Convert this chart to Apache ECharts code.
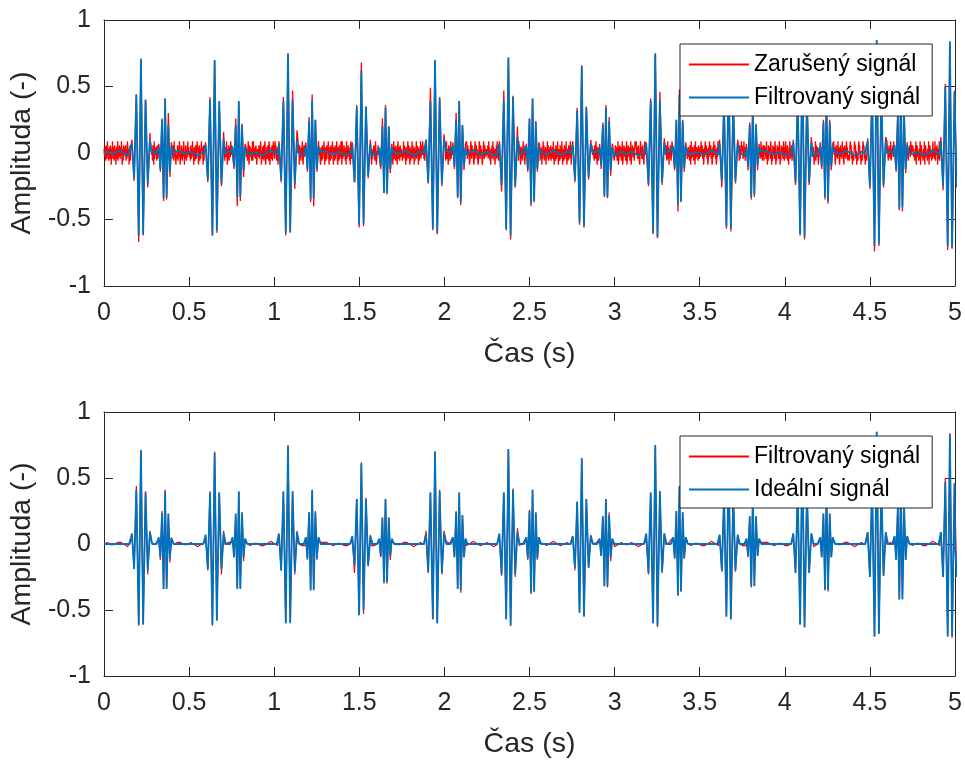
<!DOCTYPE html>
<html>
<head>
<meta charset="utf-8">
<script src="https://cdn.jsdelivr.net/npm/echarts@6/dist/echarts.min.js"></script>
<style>
html,body{margin:0;padding:0;background:#fff;}
#chart{width:965px;height:760px;}
</style>
</head>
<body>
<div id="chart"></div>
<script>
// ---------- DATA ----------
const xTicks = [0, 0.5, 1, 1.5, 2, 2.5, 3, 3.5, 4, 4.5, 5];
const yTicks = [-1, -0.5, 0, 0.5, 1];

// time (s) of the main positive peak of each burst
const beatTimes = [0.217, 0.650, 1.081, 1.512, 1.945, 2.376, 2.807, 3.239, 3.670, 4.103, 4.540, 4.970];
// time offsets (s) of the extrema of the main wavelet and of the second, smaller wavelet
const mainOffsets = [-0.053, -0.040, -0.027, -0.013, 0, 0.013, 0.027, 0.040, 0.053];
const secOffsets = [0.105, 0.114, 0.124, 0.133, 0.142, 0.151, 0.161, 0.170, 0.179];

// ideal signal extrema (bottom, blue)
const idealMain = [
  [0.08,-0.19,0.41,-0.61,0.71,-0.61,0.39,-0.20,0.09],
  [0.07,-0.19,0.39,-0.61,0.69,-0.58,0.39,-0.19,0.08],
  [0.08,-0.20,0.40,-0.60,0.74,-0.60,0.40,-0.21,0.09],
  [0.06,-0.16,0.34,-0.54,0.61,-0.50,0.34,-0.16,0.06],
  [0.07,-0.21,0.39,-0.57,0.70,-0.60,0.40,-0.22,0.08],
  [0.08,-0.23,0.39,-0.57,0.72,-0.62,0.41,-0.23,0.09],
  [0.06,-0.18,0.32,-0.52,0.65,-0.55,0.34,-0.18,0.06],
  [0.08,-0.22,0.39,-0.60,0.75,-0.62,0.40,-0.21,0.08],
  [0.07,-0.20,0.37,-0.55,0.68,-0.57,0.37,-0.20,0.07],
  [0.08,-0.22,0.40,-0.61,0.74,-0.63,0.41,-0.22,0.08],
  [0.09,-0.25,0.45,-0.70,0.85,-0.68,0.45,-0.24,0.09],
  [0.09,-0.25,0.47,-0.70,0.83,-0.70,0.46,-0.25,0.09]
];
const idealSec = [
  [0.05,-0.10,0.23,-0.34,0.40,-0.34,0.23,-0.11,0.04],
  [0.05,-0.10,0.23,-0.34,0.40,-0.34,0.24,-0.10,0.04],
  [0.05,-0.11,0.24,-0.35,0.41,-0.35,0.24,-0.11,0.05],
  [0.04,-0.09,0.20,-0.29,0.34,-0.29,0.20,-0.09,0.04],
  [0.05,-0.10,0.24,-0.34,0.39,-0.35,0.22,-0.10,0.04],
  [0.05,-0.11,0.25,-0.37,0.41,-0.36,0.24,-0.11,0.05],
  [0.04,-0.09,0.21,-0.32,0.34,-0.32,0.22,-0.10,0.04],
  [0.05,-0.11,0.25,-0.39,0.44,-0.36,0.24,-0.11,0.05],
  [0.04,-0.09,0.21,-0.32,0.36,-0.32,0.21,-0.09,0.04],
  [0.05,-0.10,0.23,-0.35,0.40,-0.35,0.23,-0.10,0.05],
  [0.06,-0.12,0.28,-0.42,0.48,-0.42,0.28,-0.12,0.06],
  [0.06,-0.12,0.28,-0.42,0.48,-0.42,0.28,-0.12,0.06]
];

// filtered signal extrema (top blue, bottom red)
const filtMain = [
  [0.07,-0.19,0.44,-0.62,0.71,-0.61,0.40,-0.23,0.10],
  [0.06,-0.20,0.40,-0.62,0.70,-0.58,0.39,-0.23,0.10],
  [0.07,-0.20,0.39,-0.60,0.75,-0.59,0.40,-0.23,0.10],
  [0.05,-0.22,0.34,-0.54,0.62,-0.53,0.35,-0.17,0.07],
  [0.10,-0.22,0.39,-0.57,0.70,-0.60,0.41,-0.23,0.10],
  [0.07,-0.24,0.39,-0.57,0.72,-0.62,0.42,-0.25,0.12],
  [0.06,-0.20,0.32,-0.52,0.65,-0.55,0.34,-0.18,0.07],
  [0.07,-0.23,0.39,-0.60,0.75,-0.63,0.40,-0.22,0.08],
  [0.07,-0.21,0.37,-0.55,0.68,-0.57,0.37,-0.21,0.07],
  [0.08,-0.22,0.40,-0.61,0.74,-0.63,0.41,-0.22,0.08],
  [0.09,-0.25,0.46,-0.70,0.85,-0.68,0.45,-0.24,0.09],
  [0.09,-0.25,0.50,-0.70,0.84,-0.71,0.46,-0.25,0.09]
];
const filtSec = [
  [0.04,-0.12,0.25,-0.34,0.41,-0.33,0.21,-0.14,0.05],
  [0.05,-0.10,0.21,-0.33,0.39,-0.33,0.21,-0.13,0.04],
  [0.05,-0.12,0.24,-0.35,0.40,-0.34,0.25,-0.12,0.05],
  [0.04,-0.10,0.20,-0.30,0.34,-0.30,0.20,-0.12,0.04],
  [0.05,-0.10,0.25,-0.33,0.39,-0.37,0.21,-0.10,0.04],
  [0.05,-0.12,0.26,-0.38,0.41,-0.36,0.23,-0.12,0.05],
  [0.04,-0.09,0.21,-0.32,0.34,-0.33,0.24,-0.13,0.04],
  [0.05,-0.11,0.25,-0.39,0.44,-0.36,0.24,-0.11,0.05],
  [0.04,-0.10,0.21,-0.33,0.36,-0.31,0.21,-0.09,0.04],
  [0.05,-0.10,0.23,-0.33,0.40,-0.36,0.23,-0.10,0.05],
  [0.06,-0.12,0.28,-0.42,0.48,-0.41,0.28,-0.12,0.06],
  [0.06,-0.12,0.28,-0.42,0.48,-0.42,0.28,-0.12,0.06]
];

// noisy signal extrema (top red)
const noisyMain = [
  [0.10,-0.21,0.44,-0.67,0.70,-0.62,0.40,-0.26,0.15],
  [0.08,-0.22,0.42,-0.62,0.69,-0.60,0.38,-0.25,0.16],
  [0.09,-0.22,0.42,-0.62,0.74,-0.60,0.47,-0.27,0.17],
  [0.08,-0.22,0.36,-0.56,0.68,-0.55,0.35,-0.19,0.10],
  [0.10,-0.23,0.49,-0.58,0.69,-0.61,0.42,-0.25,0.14],
  [0.09,-0.29,0.47,-0.58,0.71,-0.65,0.43,-0.26,0.20],
  [0.09,-0.22,0.34,-0.54,0.66,-0.56,0.35,-0.20,0.10],
  [0.08,-0.25,0.41,-0.61,0.74,-0.64,0.46,-0.24,0.11],
  [0.10,-0.26,0.40,-0.57,0.70,-0.59,0.38,-0.23,0.10],
  [0.10,-0.24,0.42,-0.62,0.75,-0.65,0.42,-0.24,0.12],
  [0.11,-0.27,0.47,-0.74,0.83,-0.70,0.47,-0.26,0.12],
  [0.12,-0.28,0.52,-0.73,0.82,-0.72,0.47,-0.26,0.11]
];
const noisySec = [
  [0.07,-0.14,0.26,-0.36,0.41,-0.35,0.30,-0.18,0.08],
  [0.07,-0.12,0.26,-0.40,0.38,-0.36,0.22,-0.18,0.07],
  [0.08,-0.14,0.27,-0.37,0.44,-0.40,0.25,-0.14,0.09],
  [0.07,-0.12,0.26,-0.30,0.36,-0.31,0.20,-0.15,0.07],
  [0.08,-0.12,0.30,-0.34,0.39,-0.39,0.21,-0.13,0.07],
  [0.07,-0.14,0.26,-0.40,0.41,-0.37,0.24,-0.14,0.08],
  [0.07,-0.12,0.23,-0.33,0.36,-0.34,0.27,-0.17,0.07],
  [0.08,-0.13,0.25,-0.44,0.48,-0.37,0.25,-0.14,0.08],
  [0.07,-0.13,0.23,-0.35,0.37,-0.33,0.22,-0.13,0.07],
  [0.08,-0.12,0.25,-0.35,0.41,-0.38,0.25,-0.13,0.07],
  [0.08,-0.14,0.30,-0.43,0.49,-0.44,0.30,-0.15,0.08],
  [0.08,-0.14,0.30,-0.43,0.49,-0.44,0.30,-0.15,0.08]
];

// background noise of the noisy signal, one digit per 0.0025 s (decoded with noiseLevels)
const noiseStep = 0.0025;
const noiseLevels = [-0.088,-0.058,-0.044,-0.030,-0.014,0.014,0.030,0.044,0.058,0.088];
const noiseDigits =
  "64371852946137285064927318560472916385274930618475" +
  "38152974603817259463081729546318207495361827405936" +
  "57264813925746183092647518293064751829374615820937" +
  "41835926704528193670425816397042851639704286153947" +
  "73518264935074186239570481623957408162935740861239" +
  "26483175940628517394026815739402681573940628157394" +
  "85274613902574836195028473615920847361592084736159" +
  "19463728504673821596034728159603472851960437281596" +
  "62958314707429583160742958316047295831640729583164" +
  "34716295808361749205836174920583617492508361749250" +
  "58293746107318265940731826594073182659407318265940" +
  "47182639509263847150926384715092638471509263847150" +
  "53827164906254873190265487319062548731960254873196" +
  "29674185306927418530692741853069274185306927418536" +
  "71539284607153928460715392846071539284607153928469" +
  "46281937504628193750462819375046281937504628193754" +
  "83715926408371592640837159264083715926408371592648" +
  "15972846301597284630159728463015972846301597284635" +
  "64829371506482937150648293715064829371506482937152" +
  "37261948503726194850372619485037261948503726194857" +
  "52948163705294816370529481637052948163705294816372" +
  "81637294056182739405618273940561827394056182739405" +
  "36927158403692715840369271584036927158403692715846" +
  "74185296307418529630741852963074185296307418529631" +
  "25863714902586371490258637149025863714902586371497" +
  "69472583106947258310694725831069472583106947258317" +
  "48316927054831692705483169270548316927054831692703" +
  "92573618409257361840925736184092573618409257361842" +
  "17395482601739548260173954826017395482601739548269" +
  "53718264905371826490537182649053718264905371826495" +
  "86249371508624937150862493715086249371508624937158" +
  "31857429603185742960318574296031857429603185742961" +
  "75926381407592638140759263814075926381407592638147" +
  "24918357602491835760249183576024918357602491835764" +
  "68352947106835294710683529471068352947106835294713" +
  "43179682504317968250431796825043179682504317968254" +
  "97514836209751483620975148362097514836209751483629" +
  "12658397401265839740126583974012658397401265839748" +
  "58734162905873416290587341629058734162905873416295" +
  "36291574803629157480362915748036291574803629157483" +
  "71463829507146382950714638295071463829507146382957";

// small baseline ripple of the filtered signal, one digit per 0.01 s
const ripStep = 0.01;
const ripLevels = [-0.036,-0.028,-0.020,-0.012,-0.004,0.004,0.012,0.020,0.028,0.036];
const ripDigits =
  "45654345676543234565434565676543345654323456765434" +
  "56543234567654345654345676543234565434565432345676" +
  "54345654345676543234565434565676543345654323456765" +
  "43456543234567654345654345676543234565434565432345" +
  "67654323456543456765433456543234567654345654345676" +
  "54323456543456765433456543234567654345654345676543" +
  "23456543456543234567654345654345676543234565434565" +
  "43234567654345654345676543234565434565676543345654" +
  "32345676543456543234567654345654345676543234565434" +
  "56567654334565432345676543456543234567654345654345" +
  "67654323456543456765433456543234567654345654345676";

// ---------- BUILD SERIES ----------
function inBurst(t) {
  for (const tp of beatTimes) {
    if (t > tp - 0.058 && t < tp + 0.058) return true;
    if (t > tp + 0.100 && t < tp + 0.184) return true;
  }
  return false;
}
function burstPoints(mainVals, secVals) {
  const pts = [];
  beatTimes.forEach((tp, b) => {
    mainOffsets.forEach((o, k) => pts.push([tp + o, mainVals[b][k]]));
    secOffsets.forEach((o, k) => pts.push([tp + o, secVals[b][k]]));
  });
  return pts;
}
function background(digits, step, levels) {
  const pts = [];
  for (let i = 0; i < digits.length; i++) {
    const t = i * step;
    if (t > 5.0001) break;
    if (!inBurst(t)) pts.push([t, levels[+digits[i]]]);
  }
  return pts;
}
function bySorted(a) { return a.sort((p, q) => p[0] - q[0]); }

const noisyData = bySorted(burstPoints(noisyMain, noisySec).concat(background(noiseDigits, noiseStep, noiseLevels)));
const filtData = bySorted(burstPoints(filtMain, filtSec).concat(background(ripDigits, ripStep, ripLevels)));
const idealAnchors = [[0, 0], [5, 0]];
beatTimes.forEach(tp => {
  idealAnchors.push([tp - 0.066, 0], [tp + 0.066, 0], [tp + 0.092, 0], [tp + 0.192, 0]);
});
const idealData = bySorted(burstPoints(idealMain, idealSec).concat(idealAnchors));

// ---------- CHART ----------
const AX = '#262626';
const FONT = '"Liberation Sans", Arial, Helvetica, sans-serif';
const RED = '#ff0000';
const BLUE = '#0072bd';

function xAxis(grid, top) {
  return {
    type: 'value', gridIndex: grid, min: 0, max: 5, interval: 0.5,
    position: top ? 'top' : 'bottom',
    axisLine: { show: true, onZero: false, lineStyle: { color: AX, width: 1 } },
    axisTick: { show: true, inside: true, length: 9, lineStyle: { color: AX, width: 1 } },
    axisLabel: { show: !top, color: AX, fontSize: 25, fontFamily: FONT, margin: 15,
      formatter: v => String(v) },
    splitLine: { show: false },
    name: top ? '' : 'Čas (s)', nameLocation: 'middle', nameGap: 54,
    nameTextStyle: { color: AX, fontSize: 28.5, fontFamily: FONT }
  };
}
function yAxis(grid, right) {
  return {
    type: 'value', gridIndex: grid, min: -1, max: 1, interval: 0.5,
    position: right ? 'right' : 'left',
    axisLine: { show: true, onZero: false, lineStyle: { color: AX, width: 1 } },
    axisTick: { show: true, inside: true, length: 9, lineStyle: { color: AX, width: 1 } },
    axisLabel: { show: !right, color: AX, fontSize: 25, fontFamily: FONT, margin: 13,
      formatter: v => String(v) },
    splitLine: { show: false },
    name: right ? '' : 'Amplituda (-)', nameLocation: 'middle', nameGap: 60,
    nameTextStyle: { color: AX, fontSize: 28.5, fontFamily: FONT }
  };
}
function line(name, data, color, width, xi, z) {
  return {
    name, type: 'line', data, xAxisIndex: xi, yAxisIndex: xi,
    symbol: 'none', showSymbol: false, clip: true, z,
    lineStyle: { color, width }, itemStyle: { color },
    animation: false
  };
}
function legend(top, items) {
  return {
    left: 680, top, orient: 'vertical', icon: 'rect', itemWidth: 60, itemHeight: 2,
    itemGap: 10, padding: [9, 12, 7, 9],
    backgroundColor: '#ffffff', borderColor: AX, borderWidth: 1,
    textStyle: { color: '#000', fontSize: 23, fontFamily: FONT },
    selectedMode: false,
    data: items.map(([n, c]) => ({ name: n, itemStyle: { color: c } }))
  };
}

const chart = echarts.init(document.getElementById('chart'), null, { renderer: 'canvas' });
chart.setOption({
  backgroundColor: '#ffffff',
  animation: false,
  grid: [
    { left: 104, right: 10, top: 20, height: 266 },
    { left: 104, right: 10, top: 412, height: 266 }
  ],
  xAxis: [xAxis(0, false), xAxis(0, true), xAxis(1, false), xAxis(1, true)],
  yAxis: [yAxis(0, false), yAxis(0, true), yAxis(1, false), yAxis(1, true)],
  legend: [
    legend(44, [['Zarušený signál', RED], ['Filtrovaný signál', BLUE]]),
    legend(436, [['Filtrovaný signál', RED], ['Ideální signál', BLUE]])
  ],
  series: [
    line('Zarušený signál', noisyData, RED, 1.3, 0, 2),
    line('Filtrovaný signál', filtData, BLUE, 1.8, 0, 3),
    line('Filtrovaný signál', filtData, RED, 1.2, 2, 2),
    line('Ideální signál', idealData, BLUE, 1.8, 2, 3)
  ]
});
</script>
</body>
</html>
